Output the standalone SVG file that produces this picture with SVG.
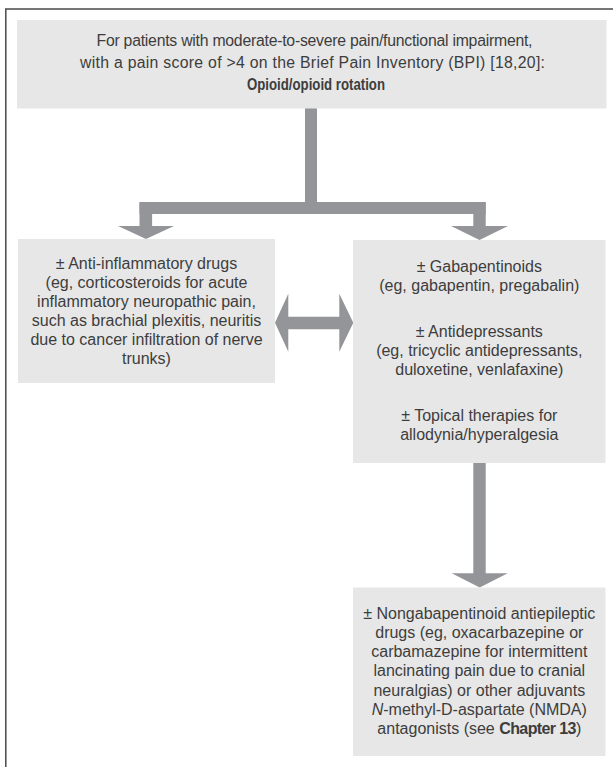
<svg xmlns="http://www.w3.org/2000/svg" width="613" height="767" viewBox="0 0 613 767">
<style>
  .box { fill: #e7e7e7; }
  .t { font-family: "Liberation Sans", Arial, sans-serif; font-size: 16px; fill: #3d3d3d; text-anchor: middle; }
  .tt { font-size: 15.8px; }
  .b { font-weight: bold; }
  .conn { fill: #939598; stroke: none; }
  .frame { fill: none; stroke: #4a4a4a; stroke-width: 1.5; }
</style>
<rect x="0" y="0" width="613" height="767" fill="#ffffff"/>
<path class="frame" d="M5.8,767 V9 H613"/>

<g id="connectors">
  <rect class="conn" x="305" y="108" width="12" height="106"/>
  <rect class="conn" x="139.5" y="202" width="346.2" height="12"/>
  <rect class="conn" x="139.5" y="202" width="12.6" height="24.5"/>
  <polygon class="conn" points="118,226 174,226 146,239"/>
  <rect class="conn" x="473.3" y="202" width="12.4" height="24.5"/>
  <polygon class="conn" points="451,226 508,226 479.5,240"/>
  <rect class="conn" x="473.3" y="462" width="12.4" height="112"/>
  <polygon class="conn" points="451.7,573.3 507.7,573.3 479.7,587.5"/>
  <polygon class="conn" points="275,322.8 288.3,293.7 288.3,316.8 339.3,316.8 339.3,293.7 353.3,322.8 339.3,351.8 339.3,329.2 288.3,329.2 288.3,351.8"/>
</g>

<g id="node-top">
  <rect class="box" x="17" y="20" width="589.5" height="88.5"/>
  <text class="t tt" x="314.5" y="46" textLength="436">For patients with moderate-to-severe pain/functional impairment,</text>
  <text class="t tt" x="312.5" y="68" textLength="465">with a pain score of &gt;4 on the Brief Pain Inventory (BPI) [18,20]:</text>
  <text class="t tt b" x="316" y="90" textLength="138" lengthAdjust="spacingAndGlyphs">Opioid/opioid rotation</text>
</g>

<g id="node-left">
  <rect class="box" x="18" y="239" width="257" height="144"/>
  <text class="t" x="146.5" y="268.5">± Anti-inflammatory drugs</text>
  <text class="t" x="146.5" y="287.5">(eg, corticosteroids for acute</text>
  <text class="t" x="146.5" y="306.5">inflammatory neuropathic pain,</text>
  <text class="t" x="146.5" y="325.5">such as brachial plexitis, neuritis</text>
  <text class="t" x="146.5" y="344.5">due to cancer infiltration of nerve</text>
  <text class="t" x="146.5" y="363.5">trunks)</text>
</g>

<g id="node-right">
  <rect class="box" x="353" y="240" width="252.5" height="223"/>
  <text class="t" x="479.3" y="271.5">± Gabapentinoids</text>
  <text class="t" x="479.3" y="290.5">(eg, gabapentin, pregabalin)</text>
  <text class="t" x="479.3" y="337">± Antidepressants</text>
  <text class="t" x="479.3" y="356">(eg, tricyclic antidepressants,</text>
  <text class="t" x="479.3" y="375">duloxetine, venlafaxine)</text>
  <text class="t" x="479.3" y="420.5">± Topical therapies for</text>
  <text class="t" x="479.3" y="439.5">allodynia/hyperalgesia</text>
</g>

<g id="node-bottom">
  <rect class="box" x="353" y="587.5" width="252.5" height="168.5"/>
  <text class="t" x="479.3" y="618.5">± Nongabapentinoid antiepileptic</text>
  <text class="t" x="479.3" y="637.8">drugs (eg, oxacarbazepine or</text>
  <text class="t" x="479.3" y="657.1">carbamazepine for intermittent</text>
  <text class="t" x="479.3" y="676.4">lancinating pain due to cranial</text>
  <text class="t" x="479.3" y="695.7">neuralgias) or other adjuvants</text>
  <text class="t" x="479.3" y="715"><tspan font-style="italic">N</tspan>-methyl-D-aspartate (NMDA)</text>
  <text class="t" x="479.3" y="734.3">antagonists (see <tspan font-weight="bold" letter-spacing="-0.6">Chapter 13</tspan>)</text>
</g>
</svg>
